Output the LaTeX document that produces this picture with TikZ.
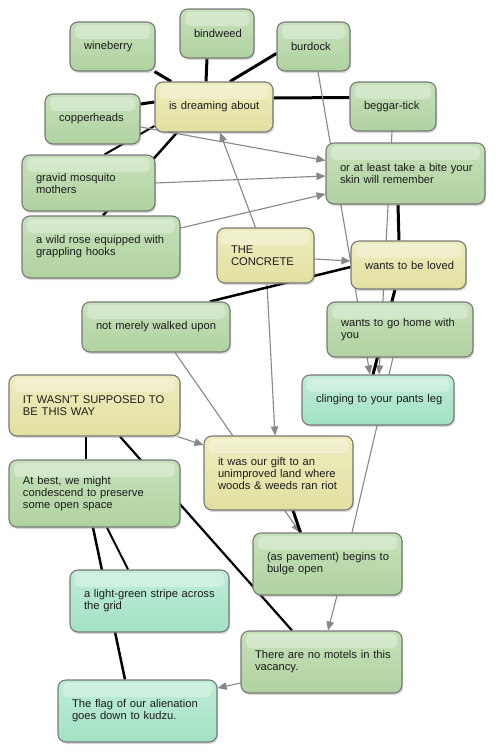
\documentclass[tikz,border=0pt]{standalone}
\usepackage{fontspec}
\setmainfont{Liberation Sans}
\usetikzlibrary{arrows.meta,shadows,backgrounds}
\definecolor{gfill}{RGB}{176,210,160}
\definecolor{gtop}{RGB}{198,225,186}
\definecolor{yfill}{RGB}{226,224,160}
\definecolor{ytop}{RGB}{238,236,190}
\definecolor{tfill}{RGB}{162,225,196}
\definecolor{ttop}{RGB}{192,237,216}
\definecolor{bord}{RGB}{120,120,120}
\definecolor{txt}{RGB}{28,28,28}
\definecolor{agray}{RGB}{135,135,135}
\tikzset{
  cbox/.style={draw=bord, line width=1.1pt, rounded corners=8pt, inner xsep=14pt, inner ysep=0pt,
    align=left, text=txt, font=\fontsize{11.2}{12}\selectfont,
    drop shadow={shadow xshift=1.2pt, shadow yshift=-2pt, opacity=0.3},
    path picture={\fill[white, opacity=0.3, rounded corners=5pt]
      ([xshift=5pt,yshift=-3pt]path picture bounding box.north west) rectangle
      ([xshift=-5pt,yshift=-17pt]path picture bounding box.north east);}},
  gbox/.style={cbox, top color=gtop, bottom color=gfill},
  ybox/.style={cbox, top color=ytop, bottom color=yfill},
  tbox/.style={cbox, top color=ttop, bottom color=tfill},
  thk/.style={line width=3pt, black},
  med/.style={line width=2pt, black},
  garr/.style={line width=1.1pt, agray, -{Triangle[length=9pt,width=7.5pt]}},
  gline/.style={line width=1.1pt, agray},
}
\begin{document}
\begin{tikzpicture}[x=1pt, y=-1pt]
\useasboundingbox (0,0) rectangle (500,756);
% nodes
\node[gbox, text width=57pt, minimum height=49pt] (wine) at (112.5,46.5) {\mbox{wineberry}};
\node[gbox, text width=46pt, minimum height=49pt] (bind) at (217,33.5) {\mbox{bindweed}};
\node[gbox, text width=45pt, minimum height=49pt] (burd) at (313.5,46.5) {\mbox{burdock}};
\node[ybox, text width=90pt, minimum height=50pt] (dream) at (214,107) {\mbox{is dreaming about}};
\node[gbox, text width=67pt, minimum height=50pt] (copp) at (92.5,119) {\mbox{copperheads}};
\node[gbox, text width=58pt, minimum height=49pt] (begg) at (393,106.5) {\mbox{beggar-tick}};
\node[gbox, text width=131pt, minimum height=61pt] (or) at (405.5,173.5) {\mbox{or at least take a bite your}\\\mbox{skin will remember}};
\node[gbox, text width=105pt, minimum height=56pt] (grav) at (88.5,183) {\mbox{gravid mosquito}\\\mbox{mothers}};
\node[gbox, text width=130pt, minimum height=62pt] (wild) at (101,247) {\mbox{a wild rose equipped with}\\\mbox{grappling hooks}};
\node[ybox, text width=69pt, minimum height=55pt] (conc) at (265.5,255.5) {\mbox{THE}\\\mbox{CONCRETE}};
\node[ybox, text width=87pt, minimum height=48pt] (loved) at (408.5,265) {\mbox{wants to be loved}};
\node[gbox, text width=120pt, minimum height=50pt] (notm) at (156,327) {\mbox{not merely walked upon}};
\node[gbox, text width=118pt, minimum height=55pt] (home) at (400,329.5) {\mbox{wants to go home with}\\\mbox{you}};
\node[tbox, text width=124pt, minimum height=50pt] (cling) at (378,400) {\mbox{clinging to your pants leg}};
\node[ybox, text width=143pt, minimum height=61pt] (itw) at (94.5,405.5) {\mbox{IT WASN'T SUPPOSED TO}\\\mbox{BE THIS WAY}};
\node[ybox, text width=121pt, minimum height=74pt] (gift) at (278.5,473) {\mbox{it was our gift to an}\\\mbox{unimproved land where}\\\mbox{woods \& weeds ran riot}};
\node[gbox, text width=143pt, minimum height=67pt] (atb) at (94.5,493.5) {\mbox{At best, we might}\\\mbox{condescend to preserve}\\\mbox{some open space}};
\node[gbox, text width=121pt, minimum height=62pt] (bulge) at (327.5,564) {\mbox{(as pavement) begins to}\\\mbox{bulge open}};
\node[tbox, text width=131pt, minimum height=62pt] (stripe) at (149.5,601) {\mbox{a light-green stripe across}\\\mbox{the grid}};
\node[gbox, text width=133pt, minimum height=62pt] (motels) at (321.5,662) {\mbox{There are no motels in this}\\\mbox{vacancy.}};
\node[tbox, text width=131pt, minimum height=62pt] (flag) at (137.5,711) {\mbox{The flag of our alienation}\\\mbox{goes down to kudzu.}};
% edges
\begin{scope}[on background layer]
\fill[white] (0,0) rectangle (500,756);
\draw[thk] (wine) -- (dream);
\draw[thk] ([xshift=-10pt]bind.south) -- ([xshift=-8pt]dream.north);
\draw[thk] ([yshift=-7pt]burd.west) -- ([xshift=16pt]dream.north);
\draw[thk] ([yshift=15pt]copp.east) -- ([yshift=5pt]dream.west);
\draw[thk] ([yshift=9pt]begg.west) -- ([yshift=9pt]dream.east);
\draw[med] ([xshift=16pt]grav.north) -- ([yshift=-19pt]dream.west);
\draw[line width=2.5pt] ([xshift=2pt]wild.north) -- ([xshift=-37pt]dream.south);
\draw[garr] ([yshift=-8pt]copp.east) -- ([yshift=13pt]or.west);
\draw[garr] (grav.east) -- ([yshift=-2.5pt]or.west);
\draw[garr] ([yshift=19pt]wild.east) -- ([yshift=-20.5pt]or.west);
\draw[garr] ([xshift=-10pt]conc.north) -- ([xshift=6pt]dream.south);
\draw[garr] ([yshift=-3.5pt]conc.east) -- ([yshift=4pt]loved.west);
\draw[garr] ([xshift=1.5pt]conc.south) -- ([xshift=-3.5pt]gift.north);
\draw[line width=2.5pt] ([xshift=54pt]notm.north) -- ([yshift=-2pt]loved.west);
\draw[garr] ([xshift=4.5pt]burd.south) -- ([xshift=-8pt]cling.north);
\draw[garr] ([xshift=-1pt]begg.south) -- ([xshift=1pt]cling.north);
\draw[thk] ([xshift=-7.5pt]or.south) -- ([xshift=-9.5pt]loved.north);
\draw[thk] ([xshift=-13.5pt]loved.south) -- ([xshift=-5pt]cling.north);
\draw[gline] ([xshift=-7pt]home.south) -- ([xshift=24.5pt]bulge.north);
\draw[garr] ([xshift=19pt]notm.south) -- ([xshift=-27.5pt]bulge.north);
\draw[thk] ([xshift=14.5pt]gift.south) -- ([xshift=-27pt]bulge.north);
\draw[garr] ([xshift=-3pt]itw.south east) -- ([yshift=28pt]gift.west);
\draw[med] ([xshift=-8.5pt]itw.south) -- ([xshift=-8.5pt]atb.north);
\draw[line width=2.2pt] ([xshift=25.5pt]itw.south) -- ([xshift=-29.5pt]motels.north);
\draw[line width=2.5pt] ([xshift=-1.5pt]atb.south) -- ([xshift=-12.5pt]flag.north);
\draw[med] ([xshift=12.5pt]atb.south) -- ([xshift=-21.5pt]stripe.north);
\draw[garr] ([xshift=9.5pt]bulge.south) -- ([xshift=6.5pt]motels.north);
\draw[garr] ([yshift=-21pt]motels.west) -- ([yshift=23pt]flag.east);
\end{scope}
\end{tikzpicture}
\end{document}
